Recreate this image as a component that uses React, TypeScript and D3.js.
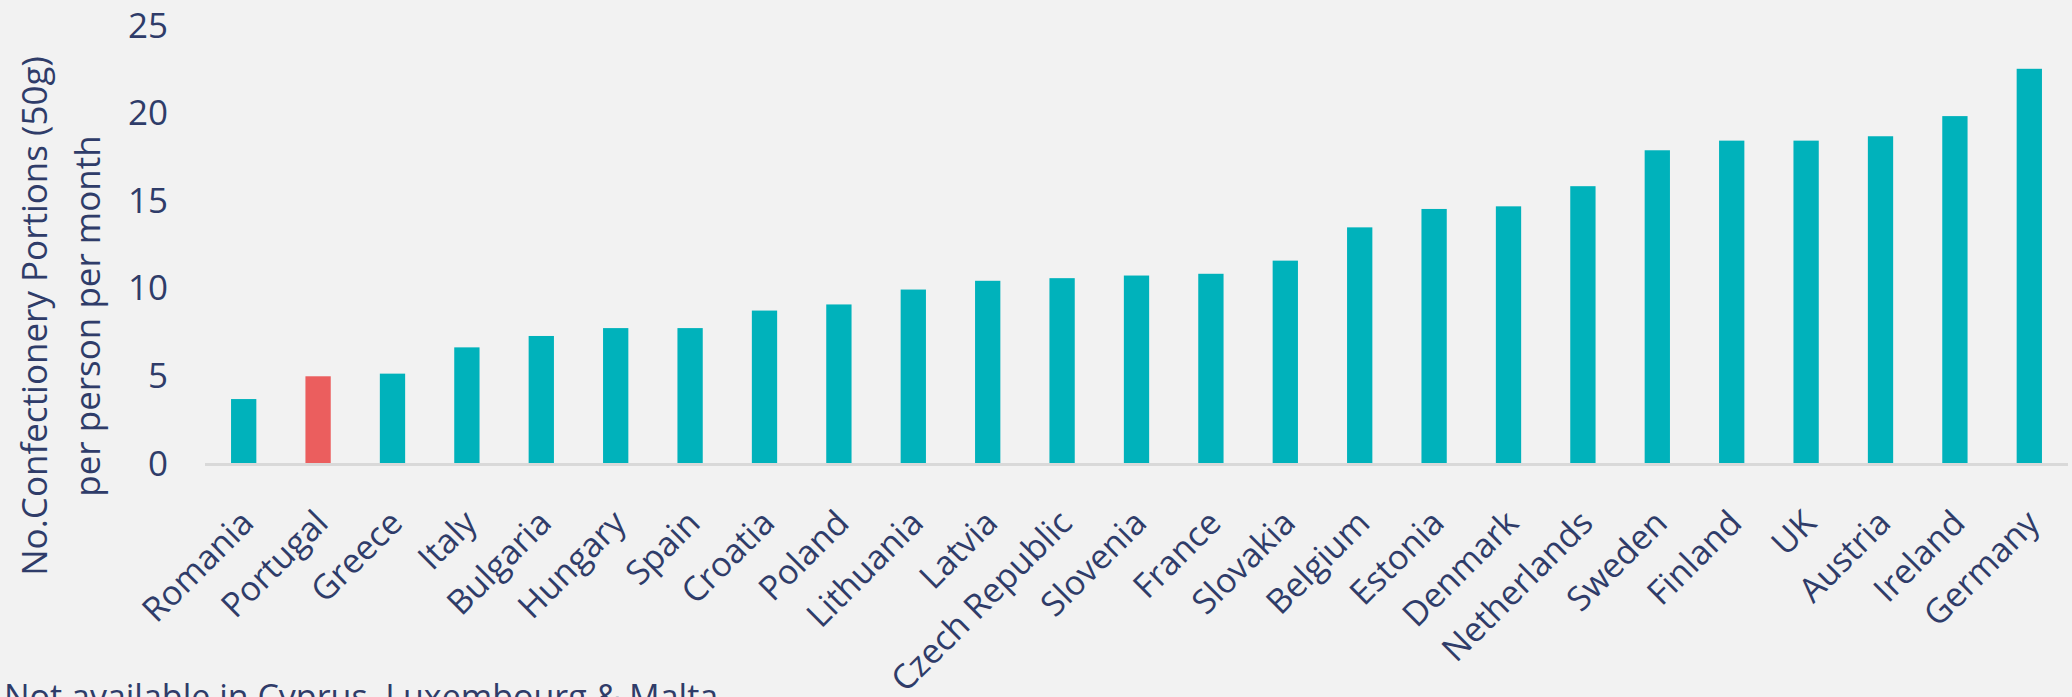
import { useMemo } from "react";
import * as d3 from "d3";

const countries = [
  "Romania", "Portugal", "Greece", "Italy", "Bulgaria", "Hungary", "Spain",
  "Croatia", "Poland", "Lithuania", "Latvia", "Czech Republic", "Slovenia",
  "France", "Slovakia", "Belgium", "Estonia", "Denmark", "Netherlands",
  "Sweden", "Finland", "UK", "Austria", "Ireland", "Germany",
];

const portions = [
  3.65, 4.95, 5.1, 6.6, 7.25, 7.7, 7.7, 8.7, 9.05, 9.9, 10.4, 10.55, 10.7,
  10.8, 11.55, 13.45, 14.5, 14.65, 15.8, 17.85, 18.4, 18.4, 18.65, 19.8, 22.5,
];

const highlighted = ["Portugal"];
const yTicks = [0, 5, 10, 15, 20, 25];
const yTitle = ["No.Confectionery Portions (50g)", "per person per month"];
const footnote = "Not available in Cyprus, Luxembourg & Malta";

const W = 2072;
const H = 697;
const mg = { top: 25, right: 4, bottom: 234, left: 205 };
const INK = "#2f3c69";
const FONT = "'Open Sans', sans-serif";

export default function App() {
  const rows = useMemo(
    () => countries.map((c, i) => ({ country: c, value: portions[i] })),
    []
  );

  const x = d3
    .scaleBand<string>()
    .domain(countries)
    .range([mg.left, W - mg.right])
    .paddingInner(0.66)
    .paddingOuter(0.35);
  const y = d3.scaleLinear([0, 25], [H - mg.bottom, mg.top]);
  const base = y(0);

  return (
    <svg
      width={W}
      height={H}
      viewBox={`0 0 ${W} ${H}`}
      style={{ position: "absolute", left: 0, top: 0, display: "block" }}
      fontFamily={FONT}
    >
      <rect width={W} height={H} fill="#f2f2f2" />

      {/* y ticks */}
      {yTicks.map((t) => (
        <text
          key={t}
          x={168}
          y={y(t)}
          dy="0.36em"
          textAnchor="end"
          fontSize={35}
          fill={INK}
        >
          {t}
        </text>
      ))}

      {/* y title, two lines centred on the same point */}
      <g transform={`translate(0, 316) rotate(-90)`}>
        {yTitle.map((line, i) => (
          <text
            key={i}
            x={0}
            y={47 + i * 53}
            textAnchor="middle"
            fontSize={35}
            fill={INK}
          >
            {line}
          </text>
        ))}
      </g>

      {/* bars */}
      {rows.map((d) => (
        <rect
          key={d.country}
          x={x(d.country)}
          y={y(d.value)}
          width={x.bandwidth()}
          height={base - y(d.value)}
          fill={highlighted.includes(d.country) ? "#eb5e5e" : "#00b2bb"}
        />
      ))}

      <line
        x1={mg.left}
        x2={W - mg.right}
        y1={base + 1.5}
        y2={base + 1.5}
        stroke="#d9d9d9"
        strokeWidth={3}
      />

      {/* category labels */}
      {countries.map((c) => {
        const cx = (x(c) ?? 0) + x.bandwidth() / 2;
        return (
          <text
            key={c}
            transform={`translate(${cx + 12}, ${base + 62}) rotate(-45)`}
            textAnchor="end"
            fontSize={34}
            fill={INK}
          >
            {c}
          </text>
        );
      })}

      <text x={4} y={709} fontSize={34} fill={INK}>
        {footnote}
      </text>
    </svg>
  );
}
